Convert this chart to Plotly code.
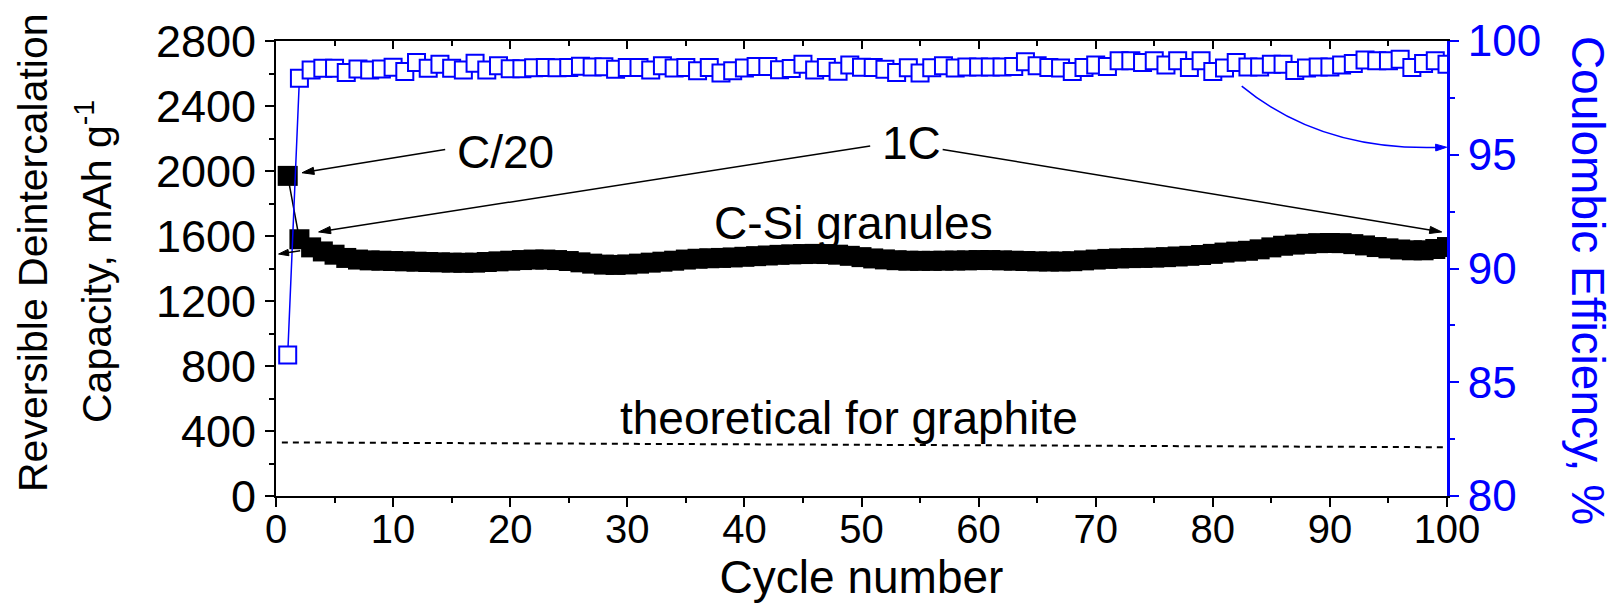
import math
import plotly.graph_objects as go

cycles = list(range(1, 101))

capacity = [1970, 1580, 1530, 1505, 1485, 1465, 1455, 1450, 1448, 1446,
            1444, 1442, 1440, 1438, 1436, 1435, 1436, 1440, 1444, 1448,
            1452, 1455, 1455, 1452, 1446, 1438, 1430, 1424, 1422, 1425,
            1430, 1436, 1442, 1448, 1455, 1460, 1463, 1465, 1468, 1472,
            1476, 1480, 1484, 1487, 1489, 1490, 1489, 1485, 1478, 1470,
            1462, 1456, 1451, 1448, 1447, 1447, 1448, 1449, 1450, 1452,
            1452, 1450, 1448, 1446, 1444, 1443, 1443, 1445, 1450, 1455,
            1459, 1462, 1464, 1465, 1467, 1470, 1474, 1478, 1483, 1490,
            1498, 1504, 1509, 1518, 1530, 1540, 1547, 1552, 1556, 1557,
            1556, 1550, 1542, 1532, 1524, 1517, 1512, 1512, 1520, 1532]

efficiency = [86.20, 98.36, 98.73, 98.80, 98.80, 98.62, 98.77, 98.73, 98.77, 98.85,
              98.66, 99.06, 98.80, 98.98, 98.80, 98.72, 99.02, 98.72, 98.91, 98.78,
              98.78, 98.82, 98.83, 98.82, 98.84, 98.89, 98.86, 98.87, 98.76, 98.84,
              98.84, 98.73, 98.91, 98.81, 98.83, 98.69, 98.83, 98.59, 98.69, 98.81,
              98.88, 98.88, 98.74, 98.79, 98.98, 98.73, 98.84, 98.67, 98.94, 98.85,
              98.83, 98.76, 98.62, 98.82, 98.59, 98.82, 98.91, 98.81, 98.86, 98.86,
              98.86, 98.86, 98.88, 99.09, 98.91, 98.84, 98.81, 98.66, 98.84, 98.95,
              98.88, 99.13, 99.13, 99.06, 99.13, 98.94, 99.13, 98.84, 99.13, 98.66,
              98.81, 99.06, 98.86, 98.86, 98.98, 98.98, 98.70, 98.81, 98.86, 98.86,
              98.94, 99.01, 99.17, 99.13, 99.13, 99.20, 98.84, 99.01, 99.13, 98.98]

graphite_x = [0.5, 100]
graphite_y = [330, 300]

x_ticks = [0, 10, 20, 30, 40, 50, 60, 70, 80, 90, 100]
y_ticks = [0, 400, 800, 1200, 1600, 2000, 2400, 2800]
y2_ticks = [80, 85, 90, 95, 100]

FONT = "Liberation Sans, Arial, sans-serif"
BLUE = "#0000FF"

W, H = 1614, 610
ML, MR, MT, MB = 276, 167, 41, 114
XR = (0, 100)
YR = (0, 2800)
Y2R = (80, 100)
PW = W - ML - MR
PH = H - MT - MB

fig = go.Figure()

fig.add_trace(go.Scatter(
    x=graphite_x, y=graphite_y, xaxis="x2", yaxis="y", mode="lines",
    line=dict(color="black", width=2, dash="6px,5px"), hoverinfo="skip",
    showlegend=False))

fig.add_trace(go.Scatter(
    x=cycles, y=capacity, mode="lines+markers",
    line=dict(color="black", width=1.5),
    marker=dict(symbol="square", size=20, color="black", line=dict(width=0)),
    showlegend=False))

fig.add_trace(go.Scatter(
    x=cycles, y=efficiency, yaxis="y2", mode="lines+markers",
    line=dict(color=BLUE, width=1.5),
    marker=dict(symbol="square", size=17, color="white", line=dict(color=BLUE, width=2)),
    showlegend=False))

axis_common = dict(showgrid=False, zeroline=False, showline=True)

fig.update_layout(
    width=W, height=H,
    margin=dict(l=ML, r=MR, t=MT, b=MB, autoexpand=False),
    paper_bgcolor="white", plot_bgcolor="white",
    font=dict(family=FONT, color="black"),
    xaxis=dict(**axis_common, range=list(XR), linecolor="black", linewidth=2,
               tickmode="array", tickvals=x_ticks,
               ticks="outside", ticklen=9, tickwidth=2, tickcolor="black",
               minor=dict(ticks="outside", ticklen=5, tickwidth=2, dtick=5, tick0=0, tickcolor="black"),
               tickfont=dict(size=40, family=FONT), ticklabelstandoff=-12,
               title=dict(text="Cycle number", font=dict(size=46, family=FONT), standoff=5)),
    xaxis2=dict(**axis_common, range=list(XR), overlaying="x", side="top", anchor="y",
                linecolor="black", linewidth=2, showticklabels=False,
                tickmode="array", tickvals=x_ticks,
                ticks="inside", ticklen=8, tickwidth=2, tickcolor="black",
                minor=dict(ticks="inside", ticklen=5, tickwidth=2, dtick=5, tick0=0, tickcolor="black")),
    yaxis=dict(**axis_common, range=list(YR), linecolor="black", linewidth=2,
               tickmode="array", tickvals=y_ticks,
               ticks="outside", ticklen=9, tickwidth=2, tickcolor="black",
               minor=dict(ticks="outside", ticklen=5, tickwidth=2, dtick=200, tick0=0, tickcolor="black"),
               tickfont=dict(size=45, family=FONT)),
    yaxis2=dict(**axis_common, range=list(Y2R), overlaying="y", side="right", anchor="x",
                linecolor=BLUE, linewidth=3, tickmode="array", tickvals=y2_ticks,
                ticks="outside", ticklen=9, tickwidth=2, tickcolor=BLUE,
                minor=dict(ticks="outside", ticklen=5, tickwidth=2, dtick=2.5, tick0=80, tickcolor=BLUE),
                tickfont=dict(size=44, family=FONT, color=BLUE)),
)


def to_px(x, y, yr):
    px = (x - XR[0]) / (XR[1] - XR[0]) * PW
    py = (y - yr[0]) / (yr[1] - yr[0]) * PH
    return px, py


def to_data(px, py, yr):
    return (XR[0] + px / PW * (XR[1] - XR[0]),
            yr[0] + py / PH * (yr[1] - yr[0]))


def arrow(head, tail, color="black", yref="y", draw_line=True, length=12, half=3.6):
    yr = YR if yref == "y" else Y2R
    hx, hy = to_px(*head, yr)
    tx, ty = to_px(*tail, yr)
    dx, dy = hx - tx, hy - ty
    n = math.hypot(dx, dy)
    ux, uy = dx / n, dy / n
    bx, by = hx - ux * length, hy - uy * length
    p1 = to_data(bx - uy * half, by + ux * half, yr)
    p2 = to_data(bx + uy * half, by - ux * half, yr)
    base = to_data(bx + ux * 1.5, by + uy * 1.5, yr)
    if draw_line:
        fig.add_shape(type="line", xref="x", yref=yref, x0=tail[0], y0=tail[1],
                      x1=base[0], y1=base[1], line=dict(color=color, width=1.5))
    path = "M {:.4f},{:.4f} L {:.4f},{:.4f} L {:.4f},{:.4f} Z".format(
        head[0], head[1], p1[0], p1[1], p2[0], p2[1])
    fig.add_shape(type="path", xref="x", yref=yref, path=path,
                  fillcolor=color, line=dict(color=color, width=1))


arrow((2.22, 1989), (14.45, 2133))
arrow((3.64, 1625), (50.74, 2154))
arrow((99.55, 1625), (56.93, 2133))
arrow((0.22, 1489), (2.07, 1509), length=10, half=3.2)

fig.add_shape(type="path", xref="x", yref="y2",
              path="M 82.47,98.02 Q 89.15,95.18 99.2,95.32",
              line=dict(color=BLUE, width=1.5))
arrow((99.97, 95.33), (89.15, 95.18), color=BLUE, yref="y2", draw_line=False, length=11, half=3.4)

ann = []
text_style = dict(showarrow=False, xref="x", yref="y", xanchor="center", yanchor="middle")
ann.append(dict(x=19.6, y=2117, text="C/20", font=dict(size=46, family=FONT, color="black"), **text_style))
ann.append(dict(x=54.24, y=2172, text="1C", font=dict(size=46, family=FONT, color="black"), **text_style))
ann.append(dict(x=49.33, y=1682, text="C-Si granules", font=dict(size=46, family=FONT, color="black"), **text_style))
ann.append(dict(x=48.95, y=478, text="theoretical for graphite", font=dict(size=46, family=FONT, color="black"), **text_style))

# left axis title (two rotated lines)
ann.append(dict(x=(33 - ML) / PW, y=(H - MB - 253) / PH, xref="paper", yref="paper",
                showarrow=False, textangle=-90, text="Reversible Deintercalation",
                font=dict(size=41, family=FONT, color="black"),
                xanchor="center", yanchor="middle"))
ann.append(dict(x=(94 - ML) / PW, y=(H - MB - 262) / PH, xref="paper", yref="paper",
                showarrow=False, textangle=-90, text="Capacity, mAh g<sup>-1</sup>",
                font=dict(size=41, family=FONT, color="black"),
                xanchor="center", yanchor="middle"))

# right axis title
ann.append(dict(x=(1588 - ML) / PW, y=0.475, xref="paper", yref="paper", showarrow=False, textangle=90,
                text="Coulombic Efficiency, %", font=dict(size=46, family=FONT, color=BLUE),
                xanchor="center", yanchor="middle"))

fig.update_layout(annotations=ann)

fig.write_html("out.html", config={"displayModeBar": False},
               post_script="document.body.style.margin='0px';")
